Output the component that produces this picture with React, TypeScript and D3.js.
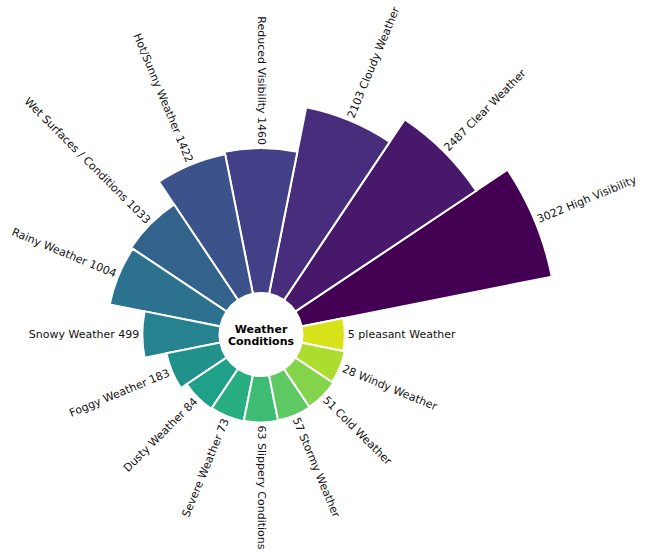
import React from "react";
import * as d3 from "d3";

const names: string[] = [
  "High Visibility",
  "Clear Weather",
  "Cloudy Weather",
  "Reduced Visibility",
  "Hot/Sunny Weather",
  "Wet Surfaces / Conditions",
  "Rainy Weather",
  "Snowy Weather",
  "Foggy Weather",
  "Dusty Weather",
  "Severe Weather",
  "Slippery Conditions",
  "Stormy Weather",
  "Cold Weather",
  "Windy Weather",
  "pleasant Weather",
];
const values: number[] = [3022, 2487, 2103, 1460, 1422, 1033, 1004, 499, 183, 84, 73, 63, 57, 51, 28, 5];
const centerTitle: string[] = ["Weather", "Conditions"];

const W = 645;
const H = 554;
const cx = 261;
const cy = 334.5;
const innerR = 41.5;

export default function App() {
  const n = values.length;
  const maxV = d3.max(values) as number;
  const rScale = d3.scaleLinear().domain([0, maxV]).range([83.5, 296.5]);
  const step = (2 * Math.PI) / n;
  // math angle (CCW from east) for bar i
  const angleScale = d3.scaleLinear().domain([0, n]).range([step, step + 2 * Math.PI]);
  const color = (i: number) => d3.interpolateViridis(i / n);
  const arc = d3.arc<any>();

  return (
    <svg
      width={W}
      height={H}
      style={{ position: "absolute", left: 0, top: 0, background: "#fff" }}
      fontFamily="DejaVu Sans"
    >
      <g transform={`translate(${cx},${cy})`}>
        {values.map((v, i) => {
          const th = angleScale(i);
          const d = arc({
            innerRadius: innerR,
            outerRadius: rScale(v),
            startAngle: Math.PI / 2 - (th + step / 2),
            endAngle: Math.PI / 2 - (th - step / 2),
          });
          return <path key={"b" + i} d={d || ""} fill={color(i)} stroke="#fff" strokeWidth={2} />;
        })}
        {values.map((v, i) => {
          const th = angleScale(i);
          const thN = ((th % (2 * Math.PI)) + 2 * Math.PI) % (2 * Math.PI);
          const r = rScale(v) + 3;
          const x = r * Math.cos(th);
          const y = -r * Math.sin(th);
          let deg = (-th * 180) / Math.PI;
          const left = thN >= Math.PI / 2 - 1e-9 && thN < (3 * Math.PI) / 2 - 1e-9;
          let anchor = "start";
          let label = `${v} ${names[i]}`;
          if (left) {
            deg += 180;
            anchor = "end";
            label = `${names[i]} ${v}`;
          }
          return (
            <text
              key={"t" + i}
              transform={`translate(${x},${y}) rotate(${deg})`}
              textAnchor={anchor}
              dominantBaseline="central"
              fontSize={11}
              fill="#111"
            >
              {label}
            </text>
          );
        })}
        <circle r={innerR - 1} fill="#fff" />
        {centerTitle.map((t, i) => (
          <text
            key={"c" + i}
            x={0}
            y={(i - 0.5) * 12.6 + 1}
            textAnchor="middle"
            dominantBaseline="central"
            fontSize={11}
            fontWeight="bold"
            fill="#000"
          >
            {t}
          </text>
        ))}
      </g>
    </svg>
  );
}
